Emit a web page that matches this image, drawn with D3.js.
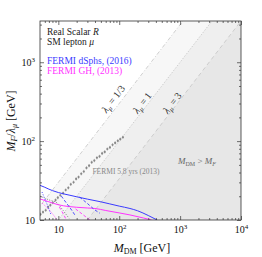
<!DOCTYPE html>
<html>
<head>
<meta charset="utf-8">
<script src="https://cdnjs.cloudflare.com/ajax/libs/d3/7.8.5/d3.min.js"></script>
<style>
  body { margin: 0; background: #fff; }
  svg { display: block; font-family: "Liberation Serif", "DejaVu Serif", serif; }
</style>
</head>
<body>
<div id="chart"></div>
<script>
// axis ranges
var xDomain = [5, 1e4];
var yDomain = [10, 1e4 / 3];
var xMajor = [10, 100, 1000, 10000];
var yMajor = [10, 100, 1000];

// coupling lines lambda = 1/3, 1, 3  (M_F/lambda = M_DM/lambda)
var lambdas = [1 / 3, 1, 3];
var lambdaLabels = ["1/3", "1", "3"];

// FERMI 5.8 yrs (2013) points [M_DM, M_F/lambda]
var fermiGC = [
  [5.1, 11.8], [5.6, 12.6], [6.2, 13.3], [6.8, 14.6], [7.4, 15.4], [8.1, 16.6],
  [9.0, 17.9], [9.8, 19.2], [10.8, 20.6], [12.0, 21.9], [13.2, 24.0], [14.6, 25.6],
  [16.0, 28.3], [17.8, 30.1], [19.6, 33.2], [21.5, 35.0], [23.8, 38.6], [26.2, 41.2],
  [29.0, 45.7], [32.0, 48.8], [35.3, 53.9], [39.0, 56.7], [43.0, 61.5], [47.5, 64.0],
  [52.4, 69.8], [57.8, 72.9], [63.8, 79.4], [70.4, 83.1], [77.7, 89.7], [85.8, 95.0],
  [94.7, 101], [104, 106], [115, 112]
];

// FERMI dSphs (2016)
var dsphSolid = [
  [5, 27.5], [6, 26], [7, 24.6], [8, 23.6], [10, 22.3], [15, 20.7], [20, 19.7],
  [30, 18.4], [50, 17], [70, 16], [100, 15], [150, 14], [200, 13.1], [300, 11.4], [420, 10]
];
var dsphDot = [[5.4, 22.6], [6, 18.5], [6.6, 15.5], [7.6, 11.6]];
var dsphDash = [
  [[11.2, 20.1], [13.5, 16.5], [16.5, 13.4], [19.2, 11.2]],
  [[22.4, 19.5], [30, 16.2], [40, 13.4], [48, 12.2]]
];

// FERMI GH (2013)
var ghSolid = [
  [5, 18.5], [7, 17], [10, 15.6], [15, 14.8], [20, 14.5], [30, 14.2], [40, 14],
  [60, 13.2], [100, 12.3], [150, 11.6], [250, 10.6], [340, 10]
];
var ghDot = [[5.4, 16.4], [7.1, 13.4], [9.6, 10]];
var ghDash = [
  [[10.4, 14.6], [12, 12], [13.6, 10]],
  [[19.2, 13.8], [25, 11.8], [33, 10]]
];

// grey dotted curve
var darkDot = [[5, 20.1], [7, 18], [9.6, 16.4], [11.5, 13.8], [13.6, 11.6], [15, 10.5]];

var W = 262, H = 257;
var blue = "#3a3aff", magenta = "#ff33ff", grey = "#c4c4c4";

var svg = d3.select("#chart").append("svg")
  .attr("width", W)
  .attr("height", H);

var x = d3.scaleLog().domain(xDomain).range([40, 241]);
var y = d3.scaleLog().domain(yDomain).range([220, 21]);

svg.append("clipPath").attr("id", "clip")
  .append("rect")
  .attr("x", 40).attr("y", 21)
  .attr("width", 201).attr("height", 199);

var plot = svg.append("g").attr("clip-path", "url(#clip)");

// shaded regions beyond each lambda line
lambdas.forEach(function(l) {
  // boundary y = x / l
  var pts = [
    [xDomain[0], xDomain[0] / l],
    [yDomain[1] * l, yDomain[1]],
    [1e6, yDomain[1]],
    [1e6, 1],
    [xDomain[0], 1]
  ];
  plot.append("path")
    .attr("d", d3.line().x(function(d) { return x(d[0]); }).y(function(d) { return y(d[1]); })(pts) + "Z")
    .attr("fill", "#000")
    .attr("fill-opacity", 0.03);
});

var dashes = ["4,2,1,2", "1.5,1.5", "4,3"];
lambdas.forEach(function(l, i) {
  plot.append("line")
    .attr("x1", x(1)).attr("y1", y(1 / l))
    .attr("x2", x(1e5)).attr("y2", y(1e5 / l))
    .attr("stroke", grey)
    .attr("stroke-width", 0.8)
    .attr("stroke-dasharray", dashes[i]);
});

// rotated lambda labels
var angle = -Math.atan2(y(10) - y(100), x(100) - x(10)) * 180 / Math.PI;
var lamPos = [[116, 101], [145, 105], [175, 105]];
lambdas.forEach(function(l, i) {
  var t = svg.append("text")
    .attr("transform", "translate(" + lamPos[i][0] + "," + lamPos[i][1] + ") rotate(" + angle + ")")
    .attr("text-anchor", "middle")
    .attr("font-size", 10)
    .attr("fill", "#333");
  t.append("tspan").attr("font-style", "italic").text("λ");
  t.append("tspan").attr("font-size", 7).attr("font-style", "italic").attr("dy", 2).text("μ");
  t.append("tspan").attr("dy", -2).text(" = " + lambdaLabels[i]);
});

var line = d3.line()
  .x(function(d) { return x(d[0]); })
  .y(function(d) { return y(d[1]); })
  .curve(d3.curveMonotoneX);

// grey dotted curve
plot.append("path").attr("d", line(darkDot))
  .attr("fill", "none").attr("stroke", "#666").attr("stroke-width", 0.8)
  .attr("stroke-dasharray", "1,1.5");

// FERMI GC points
plot.selectAll(".gc").data(fermiGC).enter().append("line")
  .attr("x1", function(d) { return x(d[0]); })
  .attr("x2", function(d) { return x(d[0]); })
  .attr("y1", function(d) { return y(d[1] * 1.05); })
  .attr("y2", function(d) { return y(d[1] / 1.05); })
  .attr("stroke", "#999").attr("stroke-width", 0.6);
plot.selectAll(".gcp").data(fermiGC).enter().append("circle")
  .attr("cx", function(d) { return x(d[0]); })
  .attr("cy", function(d) { return y(d[1]); })
  .attr("r", 1.1)
  .attr("fill", "#888");

// GH curves
plot.append("path").attr("d", line(ghDot))
  .attr("fill", "none").attr("stroke", magenta).attr("stroke-width", 0.9)
  .attr("stroke-dasharray", "1,1.5");
ghDash.forEach(function(c) {
  plot.append("path").attr("d", line(c))
    .attr("fill", "none").attr("stroke", magenta).attr("stroke-width", 0.9)
    .attr("stroke-dasharray", "3,2");
});
plot.append("path").attr("d", line(ghSolid))
  .attr("fill", "none").attr("stroke", magenta).attr("stroke-width", 1);

// dSphs curves
plot.append("path").attr("d", line(dsphDot))
  .attr("fill", "none").attr("stroke", blue).attr("stroke-width", 0.9)
  .attr("stroke-dasharray", "1,1.5");
dsphDash.forEach(function(c) {
  plot.append("path").attr("d", line(c))
    .attr("fill", "none").attr("stroke", blue).attr("stroke-width", 0.9)
    .attr("stroke-dasharray", "3,2");
});
plot.append("path").attr("d", line(dsphSolid))
  .attr("fill", "none").attr("stroke", blue).attr("stroke-width", 1);

// frame
svg.append("rect")
  .attr("x", 40).attr("y", 21).attr("width", 201).attr("height", 199)
  .attr("fill", "none").attr("stroke", "#333").attr("stroke-width", 0.8);

// minor tick values
function minors(dom) {
  var out = [];
  for (var e = 0; e < 5; e++) {
    for (var m = 2; m < 10; m++) {
      var v = m * Math.pow(10, e);
      if (v > dom[0] && v < dom[1]) out.push(v);
    }
  }
  return out;
}

function sup(sel) {
  sel.each(function(d) {
    var t = d3.select(this).text(null);
    var e = Math.round(Math.log10(d));
    if (e === 1) {
      t.text("10");
    } else {
      t.append("tspan").text("10");
      t.append("tspan").attr("font-size", 7).attr("dy", -4).text(e);
    }
  });
}

function styleAxis(g) {
  g.select(".domain").remove();
  g.selectAll("line").attr("stroke", "#333").attr("stroke-width", 0.7);
  g.selectAll("text").attr("font-family", "Liberation Serif").attr("font-size", 10).attr("fill", "#111");
}

// bottom
var gb = svg.append("g").attr("transform", "translate(0,220)")
  .call(d3.axisBottom(x).tickValues(xMajor).tickSizeInner(-4).tickSizeOuter(0).tickPadding(6));
styleAxis(gb);
gb.selectAll("text").call(sup);
svg.append("g").attr("transform", "translate(0,220)")
  .call(d3.axisBottom(x).tickValues(minors(xDomain)).tickSizeInner(-2).tickSizeOuter(0).tickFormat(""))
  .call(styleAxis);
// top
svg.append("g").attr("transform", "translate(0,21)")
  .call(d3.axisTop(x).tickValues(xMajor).tickSizeInner(-4).tickSizeOuter(0).tickFormat(""))
  .call(styleAxis);
svg.append("g").attr("transform", "translate(0,21)")
  .call(d3.axisTop(x).tickValues(minors(xDomain)).tickSizeInner(-2).tickSizeOuter(0).tickFormat(""))
  .call(styleAxis);
// left
var gl = svg.append("g").attr("transform", "translate(40,0)")
  .call(d3.axisLeft(y).tickValues(yMajor).tickSizeInner(-4).tickSizeOuter(0).tickPadding(5));
styleAxis(gl);
gl.selectAll("text").call(sup);
svg.append("g").attr("transform", "translate(40,0)")
  .call(d3.axisLeft(y).tickValues(minors(yDomain)).tickSizeInner(-2).tickSizeOuter(0).tickFormat(""))
  .call(styleAxis);
// right
svg.append("g").attr("transform", "translate(241,0)")
  .call(d3.axisRight(y).tickValues(yMajor).tickSizeInner(-4).tickSizeOuter(0).tickFormat(""))
  .call(styleAxis);
svg.append("g").attr("transform", "translate(241,0)")
  .call(d3.axisRight(y).tickValues(minors(yDomain)).tickSizeInner(-2).tickSizeOuter(0).tickFormat(""))
  .call(styleAxis);

// axis titles
var xt = svg.append("text").attr("x", 142).attr("y", 252)
  .attr("text-anchor", "middle").attr("font-size", 12).attr("fill", "#111");
xt.append("tspan").attr("font-style", "italic").text("M");
xt.append("tspan").attr("font-size", 8).attr("dy", 2).text("DM");
xt.append("tspan").attr("dy", -2).text(" [GeV]");

var yt = svg.append("text").attr("transform", "translate(15,121) rotate(-90)")
  .attr("text-anchor", "middle").attr("font-size", 12).attr("fill", "#111");
yt.append("tspan").attr("font-style", "italic").text("M");
yt.append("tspan").attr("font-size", 8).attr("font-style", "italic").attr("dy", 2).text("F");
yt.append("tspan").attr("dy", -2).text("/");
yt.append("tspan").attr("font-style", "italic").text("λ");
yt.append("tspan").attr("font-size", 8).attr("font-style", "italic").attr("dy", 2).text("μ");
yt.append("tspan").attr("dy", -2).text(" [GeV]");

// legend texts
var l1 = svg.append("text").attr("x", 47).attr("y", 35).attr("font-size", 9.5).attr("fill", "#222");
l1.append("tspan").text("Real Scalar ");
l1.append("tspan").attr("font-style", "italic").text("R");
var l2 = svg.append("text").attr("x", 47).attr("y", 45).attr("font-size", 9.5).attr("fill", "#222");
l2.append("tspan").text("SM lepton ");
l2.append("tspan").attr("font-style", "italic").text("μ");
svg.append("text").attr("x", 47).attr("y", 64).attr("font-size", 9.5).attr("fill", blue)
  .text("FERMI dSphs, (2016)");
svg.append("text").attr("x", 47).attr("y", 74).attr("font-size", 9.5).attr("fill", magenta)
  .text("FERMI GH, (2013)");

// region labels
var mr = svg.append("text").attr("x", 197).attr("y", 164).attr("text-anchor", "middle")
  .attr("font-size", 9).attr("fill", "#666");
mr.append("tspan").attr("font-style", "italic").text("M");
mr.append("tspan").attr("font-size", 6).attr("dy", 1.5).text("DM");
mr.append("tspan").attr("dy", -1.5).text(" > ");
mr.append("tspan").attr("font-style", "italic").text("M");
mr.append("tspan").attr("font-size", 6).attr("font-style", "italic").attr("dy", 1.5).text("F");

svg.append("text").attr("x", 126).attr("y", 174).attr("text-anchor", "middle")
  .attr("font-size", 7.5).attr("fill", "#888")
  .text("FERMI 5.8 yrs (2013)");
</script>
</body>
</html>
